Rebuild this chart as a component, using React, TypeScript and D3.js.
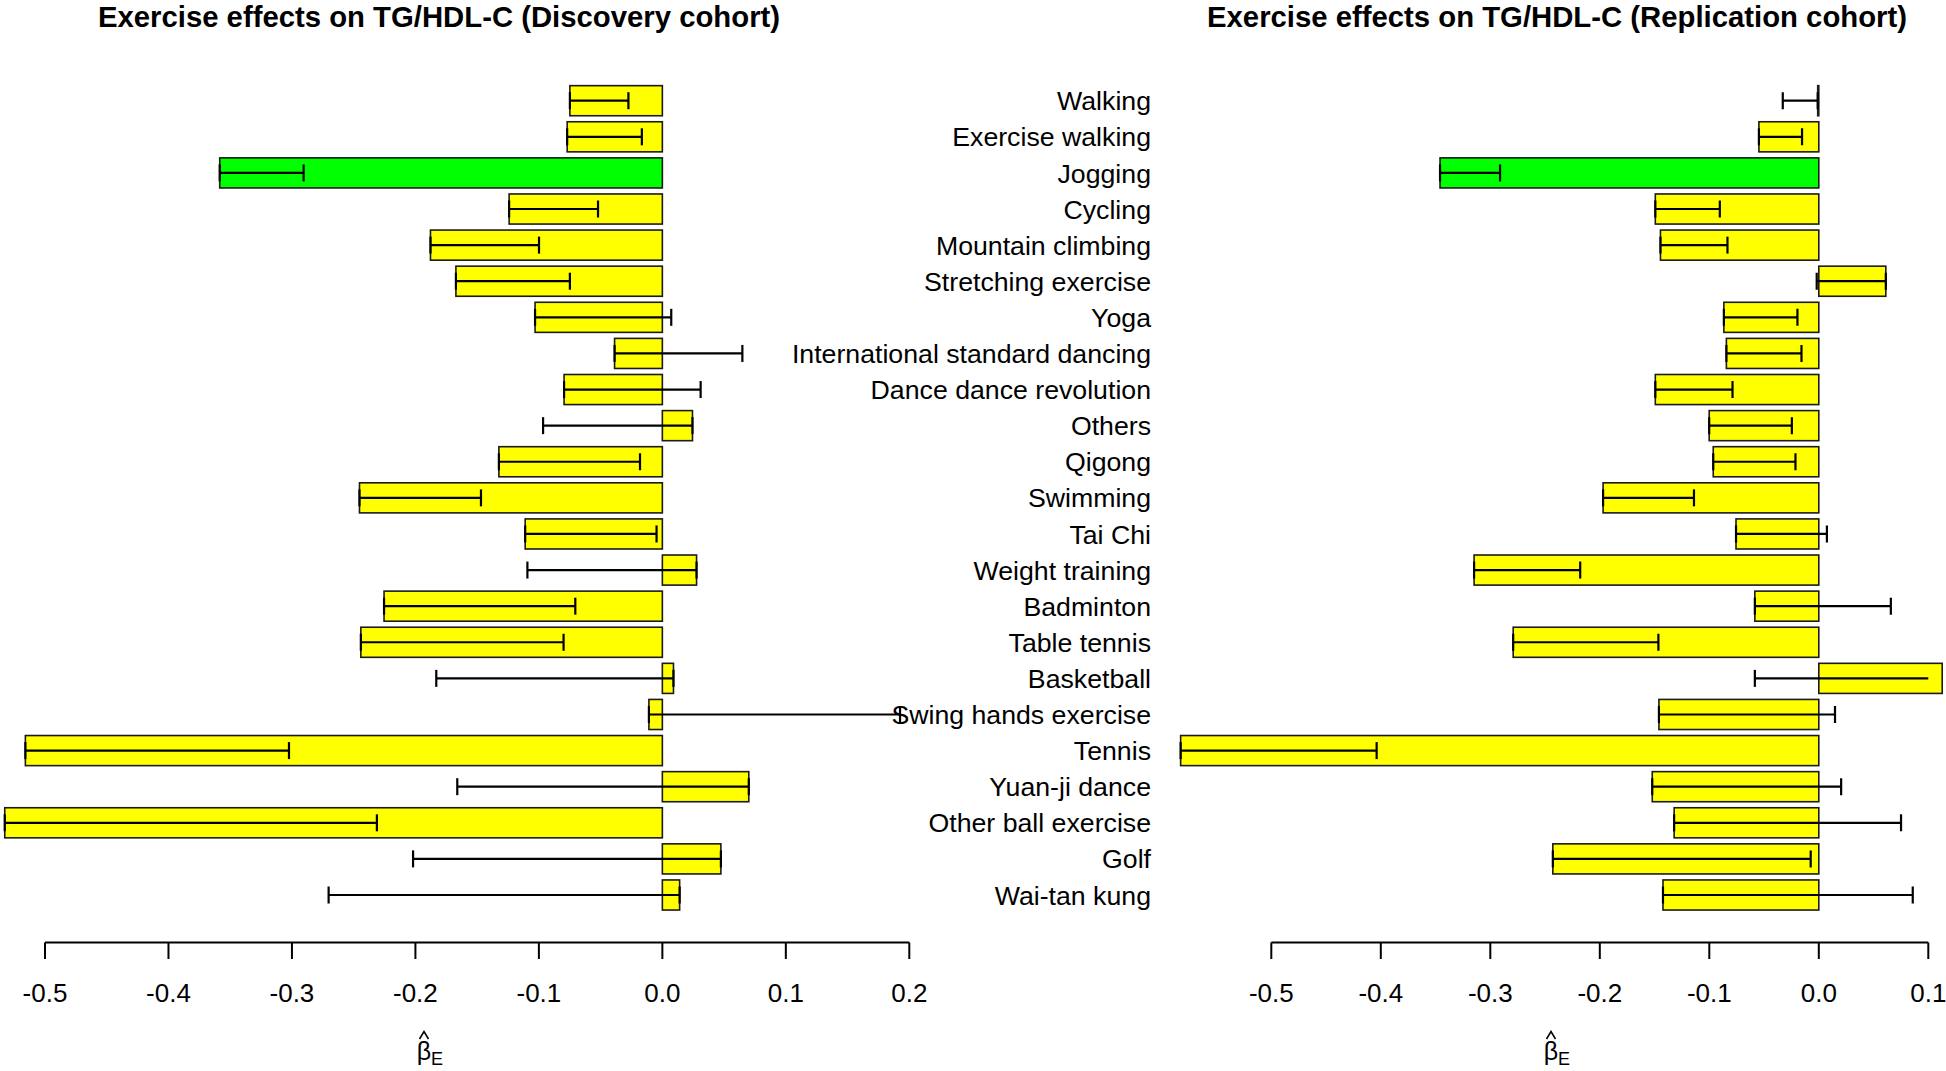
import React from "react";
import * as d3 from "d3";

const categories = [
  "Walking", "Exercise walking", "Jogging", "Cycling", "Mountain climbing",
  "Stretching exercise", "Yoga", "International standard dancing",
  "Dance dance revolution", "Others", "Qigong", "Swimming", "Tai Chi",
  "Weight training", "Badminton", "Table tennis", "Basketball",
  "Swing hands exercise", "Tennis", "Yuan-ji dance", "Other ball exercise",
  "Golf", "Wai-tan kung",
];

const discoveryBeta = [
  -0.0749, -0.0771, -0.3585, -0.1241, -0.1878, -0.1672, -0.1031, -0.0387,
  -0.0796, 0.0244, -0.1324, -0.2453, -0.1111, 0.0277, -0.2254, -0.2442,
  0.009, -0.0109, -0.5159, 0.07, -0.5326, 0.0474, 0.014,
];
const discoveryErrEnd = [
  -0.0275, -0.0166, -0.2905, -0.0521, -0.0999, -0.0749, 0.0072, 0.0648,
  0.031, -0.0966, -0.0181, -0.1469, -0.0047, -0.1093, -0.0705, -0.08,
  -0.1831, 0.1925, -0.3024, -0.1661, -0.2312, -0.2019, -0.2703,
];

const replicationBeta = [
  -0.001, -0.0547, -0.3459, -0.1493, -0.1446, 0.0612, -0.0867, -0.0844,
  -0.1493, -0.1001, -0.0964, -0.197, -0.0756, -0.3148, -0.0584, -0.2791,
  0.1127, -0.146, -0.5828, -0.1521, -0.1321, -0.2429, -0.1423,
];
const replicationErrEnd = [
  -0.0329, -0.0153, -0.2911, -0.0904, -0.0834, -0.0019, -0.0195, -0.0158,
  -0.0788, -0.0246, -0.0213, -0.114, 0.0074, -0.2179, 0.0658, -0.1465,
  -0.0584, 0.0148, -0.4038, 0.0204, 0.0751, -0.0074, 0.0858,
];

const highlighted = ["Jogging"];
const leftTicks = [-0.5, -0.4, -0.3, -0.2, -0.1, 0.0, 0.1, 0.2];
const rightTicks = [-0.5, -0.4, -0.3, -0.2, -0.1, 0.0, 0.1];
const titles = [
  "Exercise effects on TG/HDL-C (Discovery cohort)",
  "Exercise effects on TG/HDL-C (Replication cohort)",
];

const W = 1946;
const H = 1071;
const FONT = "'Liberation Sans', Arial, Helvetica, sans-serif";
const YELLOW = "#FFFF00";
const GREEN = "#00FF00";

const y = d3.scalePoint<string>().domain(categories).range([100.7, 895]);
const step = y.step();
const barH = step / 1.2;

const xLeft = d3.scaleLinear().domain([-0.5, 0.2]).range([45, 909.3]);
const xRight = d3.scaleLinear().domain([-0.5, 0.1]).range([1271.3, 1928.3]);

const AXIS_Y = 942.5;
const TICK_LEN = 16.5;
const fmt = (t: number) => d3.format(".1f")(t).replace("\u2212", "-");

function Panel({
  x, beta, errEnd, ticks, title, titleX, betaX, clipId, clipMax,
}: any) {
  const x0 = x(0);
  return (
    <g>
      <text x={titleX} y={27} textAnchor="middle" fontFamily={FONT}
        fontWeight="bold" fontSize={29.3} fill="#000">{title}</text>
      {clipMax !== undefined && (
        <defs>
          <clipPath id={clipId}>
            <rect x={0} y={0} width={x(clipMax)} height={H} />
          </clipPath>
        </defs>
      )}
      {categories.map((c, i) => {
        const v = beta[i];
        const xa = Math.min(x(v), x0);
        const w = Math.abs(x(v) - x0);
        const cy = y(c) as number;
        return (
          <rect key={"b" + c} x={xa} y={cy - barH / 2} width={w} height={barH}
            fill={highlighted.includes(c) ? GREEN : YELLOW}
            stroke="#1a1a1a" strokeWidth={1.6} />
        );
      })}
      <g clipPath={clipMax !== undefined ? `url(#${clipId})` : undefined}>
        {categories.map((c, i) => {
          const cy = y(c) as number;
          const a = x(beta[i]);
          const b = x(errEnd[i]);
          return (
            <g key={"e" + c} stroke="#000" strokeWidth={2.2} fill="none">
              <line x1={a} x2={b} y1={cy} y2={cy} />
              <line x1={a} x2={a} y1={cy - 8.5} y2={cy + 8.5} />
              <line x1={b} x2={b} y1={cy - 8.5} y2={cy + 8.5} />
            </g>
          );
        })}
      </g>
      <line x1={x(ticks[0])} x2={x(ticks[ticks.length - 1])} y1={AXIS_Y} y2={AXIS_Y}
        stroke="#000" strokeWidth={2} />
      {ticks.map((t: number) => (
        <g key={"t" + t}>
          <line x1={x(t)} x2={x(t)} y1={AXIS_Y} y2={AXIS_Y + TICK_LEN}
            stroke="#000" strokeWidth={2} />
          <text x={x(t)} y={1001.8} textAnchor="middle" fontFamily={FONT}
            fontSize={26} fill="#000">{fmt(t)}</text>
        </g>
      ))}
      <g fontFamily={FONT} fill="#000">
        <text x={betaX} y={1059.5} textAnchor="middle" fontSize={25}>β</text>
        <path d={`M${betaX - 4.5},${1039} L${betaX},${1031.5} L${betaX + 4.5},${1039}`}
          stroke="#000" strokeWidth={1.6} fill="none" />
        <text x={betaX + 7} y={1064.5} fontSize={18}>E</text>
      </g>
    </g>
  );
}

export default function App() {
  return (
    <svg width={W} height={H} viewBox={`0 0 ${W} ${H}`}
      style={{ position: "absolute", left: 0, top: 0, background: "#fff" }}>
      <rect x={0} y={0} width={W} height={H} fill="#fff" />
      <Panel x={xLeft} beta={discoveryBeta} errEnd={discoveryErrEnd}
        ticks={leftTicks} title={titles[0]} titleX={439} betaX={424}
        clipId="clipL" />
      <Panel x={xRight} beta={replicationBeta} errEnd={replicationErrEnd}
        ticks={rightTicks} title={titles[1]} titleX={1557} betaX={1551}
        clipId="clipR" clipMax={0.1} />
      {categories.map((c) => (
        <text key={"l" + c} x={1151} y={(y(c) as number) + 9.6} textAnchor="end"
          fontFamily={FONT} fontSize={26.7} fill="#000">{c}</text>
      ))}
    </svg>
  );
}
